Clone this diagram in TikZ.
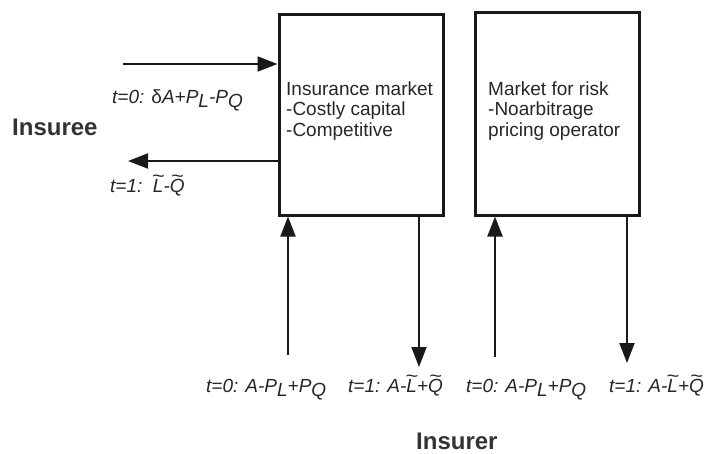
\documentclass[tikz,border=0pt]{standalone}
\usepackage{fontspec}
\setmainfont{Liberation Sans}
\usetikzlibrary{arrows.meta}
\newcommand\tld[1]{{\ooalign{#1\cr\hidewidth\raisebox{0.5em}{\scalebox{1.15}[1]{\textasciitilde}}\hidewidth\cr}}}
\newcommand\sbs[1]{\raisebox{-0.22em}{#1}}
\begin{document}
\begin{tikzpicture}[x=1pt,y=-1pt,
  market/.style={draw=black!90, line width=3pt, inner sep=0pt, minimum width=164pt},
  boxtext/.style={anchor=base west, inner sep=0pt, align=left, font=\fontsize{19}{20.5}\selectfont, text=black!85},
  flowlabel/.style={anchor=base west, inner sep=0pt, font=\fontsize{19}{21}\selectfont\itshape, text=black!85},
  party/.style={anchor=base west, inner sep=0pt, font=\fontsize{24}{26}\selectfont\bfseries, text=black!80},
  arr/.style={line width=2pt, draw=black!90, -{Triangle[length=20pt,width=15pt]}}]
\useasboundingbox (0,0) rectangle (707,453);
% boxes
\node[market, minimum height=201pt] (b1) at (361,114.5) {};
\node[market, minimum height=202.5pt] (b2) at (557,113.75) {};
\node[boxtext] (t1) at (286,136) {Insurance market\\-Costly capital\\-Competitive};
\node[boxtext] (t2) at (488,136) {Market for risk\\-Noarbitrage\\pricing operator};
% parties
\node[party] (insuree) at (12,135) {Insuree};
\node[party] (insurer) at (416,449) {Insurer};
% arrows
\coordinate (a1) at (123,64);
\coordinate (a2) at (128,161);
\coordinate (u1) at (288,355);
\coordinate (d1) at (419,367);
\coordinate (u2) at (495,357);
\coordinate (d2) at (627,363);
\draw[arr] (a1) -- (a1 -| b1.west);
\draw[arr] (a2 -| b1.west) -- (a2);
\draw[arr] (u1) -- (u1 |- b1.south);
\draw[arr] (d1 |- b1.south) -- (d1);
\draw[arr] (u2) -- (u2 |- b2.south);
\draw[arr] (d2 |- b2.south) -- (d2);
% labels
\node[flowlabel] (l1) at (112,103) {t=0: {\upshape δ}A+P\sbs{L}-P\sbs{Q}};
\node[flowlabel] (l2) at (110,192) {t=1:\ \ \tld{L}-\tld{Q}};
\node[flowlabel] (l3) at (206,392) {t=0: A-P\sbs{L}+P\sbs{Q}};
\node[flowlabel] (l4) at (348,392) {t=1: A-\tld{L}+\tld{Q}};
\node[flowlabel] (l5) at (466,392) {t=0: A-P\sbs{L}+P\sbs{Q}};
\node[flowlabel] (l6) at (609,392) {t=1: A-\tld{L}+\tld{Q}};
\end{tikzpicture}
\end{document}
